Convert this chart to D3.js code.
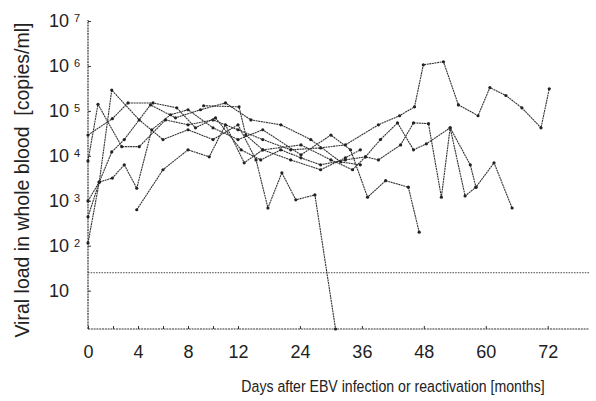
<!DOCTYPE html>
<html>
<head>
<meta charset="utf-8">
<script src="https://cdn.jsdelivr.net/npm/d3@7/dist/d3.min.js"></script>
<style>
	body { margin: 0; background: #fff; }
	svg text { font-family: "Liberation Sans", Arial, Helvetica, sans-serif; fill: #222; }
</style>
</head>
<body>
<svg id="chart" width="596" height="401"></svg>
<script>
// x axis: days 0-12, then months
var xTicks = [0, 2, 4, 6, 8, 10, 12, 24, 36, 48, 60, 72];
var xLabels = [0, 4, 8, 12, 24, 36, 48, 60, 72];
var yExponents = [1, 2, 3, 4, 5, 6, 7];
var cutoff = 25;        // dotted detection line
var floorValue = 1.4;   // undetectable, sits on the axis

// one array per patient: [time, copies/ml]
var patientA = [[0,7.7e3],[0.8,1.4e5],[2.7,1.6e4],[4.1,1.6e4],[6.2,6.3e4],[8,4.9e4],[10,6.3e4],[12,3.8e4],
	[16.8,2.3e4],[22.2,1.36e4],[28,1.5e4],[32.8,1.75e4],[39.2,4.9e4],[43.3,7.8e4],[46.2,1.23e5],
	[47.9,1.06e6],[51.8,1.24e6],[54.7,1.36e5],[58.5,7.8e4],[60.8,3.3e5],[63.9,2.2e5],[67,1.17e5],
	[70.7,4.2e4],[72.3,3.1e5]];
var patientB = [[0,2.9e4],[1.95,6.7e4],[3.2,1.5e5],[5.2,1.5e5],[7.1,1.17e5],[8.6,4.2e4],[10.2,7e4],
	[12.6,1.36e4],[16.4,8.1e3],[20.3,1.36e4],[24.2,9e3],[28,6.3e3],[32.8,8.1e3],[36.7,9.5e3],
	[39.2,8.1e3],[43.5,1.75e4],[46,5.4e4],[48.9,5.2e4],[51.4,1.2e3],[53.1,4.2e4],[56,1.28e3],
	[58.1,2e3],[61.6,7e3],[65.1,690]];
var patientC = [[0,440],[0.9,2.6e3],[1.9,2.9e5],[4.1,6.3e4],[6,2.3e4],[8,3.8e4],[10,2.3e4],[12,4.9e4],
	[15.5,8.1e3],[17.8,690],[20.5,4.2e3],[23.2,1.05e3],[26.9,1.35e3],[30.9,1.4]];
var patientD = [[0,115],[0.9,2.6e3],[1.95,3.2e3],[2.9,6.3e3],[3.9,1.9e3],[5.1,3.8e4],[6.6,8.2e4],
	[8,1.06e5],[10,4.2e4],[12,2.3e4],[16.8,3.8e4],[24.2,1.05e4],[30,2.9e4],[33.8,1.36e4],
	[37.1,1.2e3],[40.6,2.8e3],[45,2e3],[47.1,200]];
var patientE = [[3.9,630],[6,4.9e3],[8,1.36e4],[9.7,9.5e3],[11,4.9e4],[13.2,7e3],[16.8,1.36e4],
	[24.2,1.75e4],[30,8.1e3],[34.2,4.9e3],[36.7,9.5e3],[39.6,2.3e4],[42.9,5.4e4],[46,1.36e4],
	[48.5,1.85e4],[53.1,4.2e4],[57,6.3e3],[58.1,2e3]];
var patientF = [[9.25,1.3e5],[12.2,1.23e5],[13.5,2.9e4],[16.8,1.36e4],[22.2,8.1e3],[28,4.9e3],
	[32.8,9e3],[35.7,1.36e4]];
var patientG = [[0,990],[0.9,2.6e3],[1.9,1.22e4],[2.9,2.3e4],[5,1.36e5],[7,7e4],[9,1.06e5],
	[11,1.5e5],[14.5,6.3e4],[20.3,4.9e4],[26.1,2.3e4],[31.9,7.3e3],[35.7,6.3e3]];

var patients = [patientA, patientB, patientC, patientD, patientE, patientF, patientG];

var svg = d3.select('#chart');
var ink = '#333';

// piecewise scale: 0-12 stretched, 12-80 compressed
var x = d3.scaleLinear().domain([0, 12, 80]).range([88, 238, 589]);
var y = d3.scaleLog().domain([floorValue, 1e7]).range([329, 21]);

// axes (ticks pointing inward)
var xAxis = svg.append('g')
	.attr('transform', 'translate(0,' + y(floorValue) + ')')
	.call(d3.axisBottom(x).tickValues(xTicks).tickSizeInner(-3).tickSizeOuter(0)
		.tickFormat(function(d) { return xLabels.indexOf(d) >= 0 ? d : ''; }));
var yAxis = svg.append('g')
	.attr('transform', 'translate(' + x(0) + ',0)')
	.call(d3.axisLeft(y).tickValues(yExponents.map(function(e) { return Math.pow(10, e); }))
		.tickSizeInner(-3).tickSizeOuter(0).tickFormat(''));

svg.selectAll('.domain').remove();
svg.selectAll('.tick line').attr('stroke', ink).attr('stroke-width', 1);
xAxis.selectAll('.tick text')
	.attr('y', 16)
	.style('font-size', '18px')
	.attr('fill', '#222');

// axis lines
svg.append('line')
	.attr('x1', x(0)).attr('x2', x(80))
	.attr('y1', y(floorValue)).attr('y2', y(floorValue))
	.attr('stroke', ink).attr('stroke-width', 1.2).attr('stroke-dasharray', '2,0.8');
svg.append('line')
	.attr('x1', x(0)).attr('x2', x(0))
	.attr('y1', y(floorValue)).attr('y2', y(1e7) - 1)
	.attr('stroke', ink).attr('stroke-width', 1.2).attr('stroke-dasharray', '2,0.8');

// y labels 10^n
yExponents.forEach(function(e) {
	var v = Math.pow(10, e);
	svg.append('text')
		.attr('x', 69).attr('y', y(v) + 6)
		.attr('text-anchor', 'end')
		.style('font-size', '18px')
		.text('10');
	if (e > 1) {
		svg.append('text')
			.attr('x', 74).attr('y', y(v) + 1)
			.style('font-size', '11px')
			.text(e);
	}
});

// detection limit
svg.append('line')
	.attr('x1', x(0)).attr('x2', x(80))
	.attr('y1', y(cutoff)).attr('y2', y(cutoff))
	.attr('stroke', '#444').attr('stroke-width', 1).attr('stroke-dasharray', '1.5,1.2');

// patient lines
var line = d3.line()
	.x(function(d) { return x(d[0]); })
	.y(function(d) { return y(d[1]); });

svg.selectAll('.patient')
	.data(patients)
  .enter()
	.append('path')
	.attr('class', 'patient')
	.attr('d', line)
	.attr('fill', 'none')
	.attr('stroke', ink)
	.attr('stroke-width', 1.1)
	.attr('stroke-dasharray', '2,0.6');

svg.selectAll('.dots')
	.data(patients)
  .enter()
	.append('g')
	.selectAll('circle')
	.data(function(d) { return d; })
  .enter()
	.append('circle')
	.attr('cx', function(d) { return x(d[0]); })
	.attr('cy', function(d) { return y(d[1]); })
	.attr('r', 1.6)
	.attr('fill', '#222');

// titles (scan is a little condensed, so squeeze along the text)
svg.append('text')
	.attr('transform', 'translate(22,180) rotate(-90)')
	.attr('text-anchor', 'middle')
	.attr('dominant-baseline', 'central')
	.style('font-size', '19.5px')
	.style('white-space', 'pre')
	.text('Viral load in whole blood  [copies/ml]');
svg.append('text')
	.attr('transform', 'translate(393,392) scale(0.83,1)')
	.attr('text-anchor', 'middle')
	.style('font-size', '17px')
	.text('Days after EBV infection or reactivation [months]');
</script>
</body>
</html>
